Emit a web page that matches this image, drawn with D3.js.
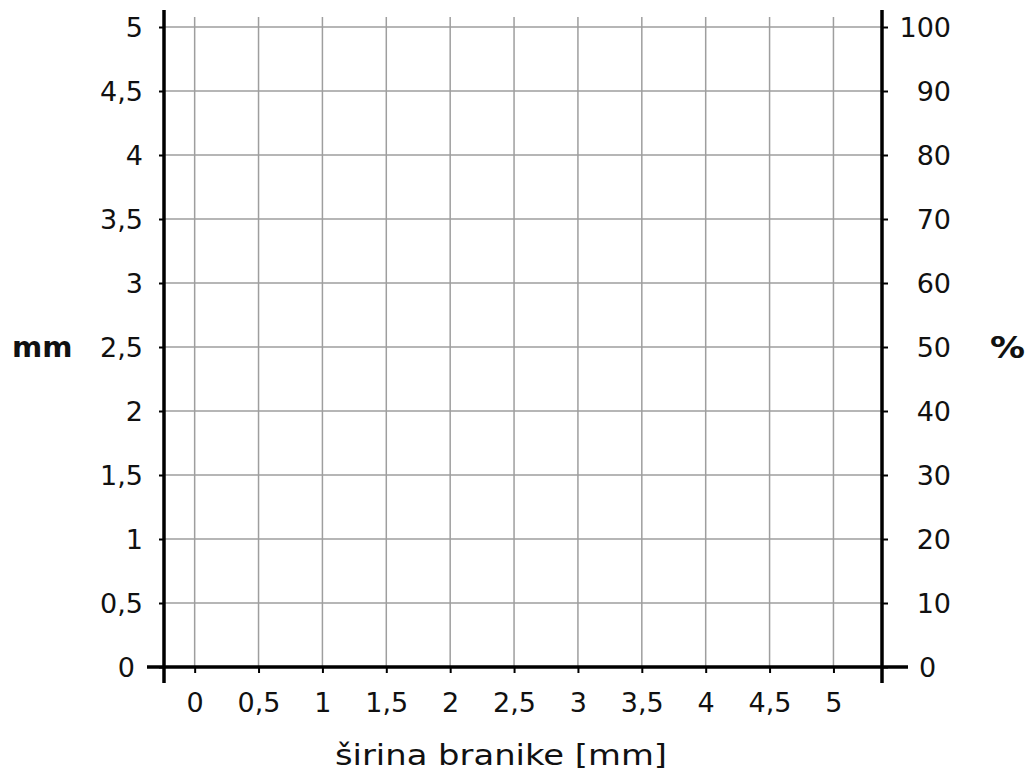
<!DOCTYPE html>
<html>
<head>
<meta charset="utf-8">
<script src="https://cdn.jsdelivr.net/npm/d3@7"></script>
<style>
  body { margin: 0; background: #fff; }
  text { font-family: "DejaVu Sans", Verdana, sans-serif; fill: #111; }
</style>
</head>
<body>
<svg id="chart"></svg>
<script>
// hodnoty os
const xTicks = [0, 0.5, 1, 1.5, 2, 2.5, 3, 3.5, 4, 4.5, 5];
const yTicks = [0, 0.5, 1, 1.5, 2, 2.5, 3, 3.5, 4, 4.5, 5];
const pctTicks = [0, 10, 20, 30, 40, 50, 60, 70, 80, 90, 100];
const xDomain = [-0.24, 5.38];
const yDomain = [0, 5];
const pctDomain = [0, 100];
const xLabel = 'širina branike [mm]';
const yLabelLeft = 'mm';
const yLabelRight = '%';

const W = 1033, H = 780;
const left = 164, right = 882, bottom = 667, top5 = 27;

const svg = d3.select('#chart').attr('width', W).attr('height', H);

const x = d3.scaleLinear().domain(xDomain).range([left, right]);
const y = d3.scaleLinear().domain(yDomain).range([bottom, top5]);
const yp = d3.scaleLinear().domain(pctDomain).range([bottom, top5]);

const fmt = d => String(d).replace('.', ',');

// mrizka
const grid = svg.append('g').attr('stroke', '#9e9e9e').attr('stroke-width', 1.5);
grid.selectAll('.vg').data(xTicks).join('line')
    .attr('x1', d => x(d)).attr('x2', d => x(d))
    .attr('y1', 17).attr('y2', bottom);
grid.selectAll('.hg').data(yTicks.filter(d => d > 0)).join('line')
    .attr('x1', left).attr('x2', right)
    .attr('y1', d => y(d)).attr('y2', d => y(d));

// osy
const xAxis = d3.axisBottom(x).tickValues(xTicks).tickFormat(fmt).tickSize(6).tickPadding(20);
const yAxis = d3.axisLeft(y).tickValues(yTicks).tickFormat(fmt).tickSize(5).tickPadding(16);
const pAxis = d3.axisRight(yp).tickValues(pctTicks).tickSize(6).tickPadding(24);

const gx = svg.append('g').attr('transform', `translate(0,${bottom})`).call(xAxis);
const gy = svg.append('g').attr('transform', `translate(${left},0)`).call(yAxis);
const gp = svg.append('g').attr('transform', `translate(${right},0)`).call(pAxis);

[gx, gy, gp].forEach(g => {
  g.select('.domain').remove();
  g.selectAll('.tick line').attr('stroke', '#000').attr('stroke-width', 2);
  g.selectAll('.tick text').style('font-size', '27px').attr('fill', '#333');
});
gx.selectAll('.tick text').attr('dy', '0.71em');
gy.selectAll('.tick text').attr('dy', '0.36em')
  .filter(d => d === 0).attr('dx', -8);
gp.selectAll('.tick text').attr('dy', '0.36em')
  .attr('text-anchor', 'end').attr('x', 69)
  .filter(d => d === 0).attr('text-anchor', 'start').attr('x', 37);

// hlavni cary
const axes = svg.append('g').attr('stroke', '#000').attr('stroke-width', 3.5);
axes.append('line').attr('x1', left).attr('x2', left).attr('y1', 10).attr('y2', 683);
axes.append('line').attr('x1', right).attr('x2', right).attr('y1', 10).attr('y2', 683);
axes.append('line').attr('x1', 147).attr('x2', 908).attr('y1', bottom).attr('y2', bottom);

// popisky
svg.append('text')
    .attr('x', 12).attr('y', y(2.5)).attr('dy', '0.36em')
    .style('font-size', '29px').style('font-weight', 'bold')
    .text(yLabelLeft);
svg.append('text')
    .attr('x', 990).attr('y', y(2.5)).attr('dy', '0.36em')
    .attr('textLength', 35).attr('lengthAdjust', 'spacingAndGlyphs')
    .style('font-size', '30px').style('font-weight', 'bold')
    .text(yLabelRight);
svg.append('text')
    .attr('x', (335 + 667) / 2).attr('y', 765)
    .attr('text-anchor', 'middle')
    .attr('textLength', 332).attr('lengthAdjust', 'spacingAndGlyphs')
    .style('font-size', '29px')
    .text(xLabel);
</script>
</body>
</html>
